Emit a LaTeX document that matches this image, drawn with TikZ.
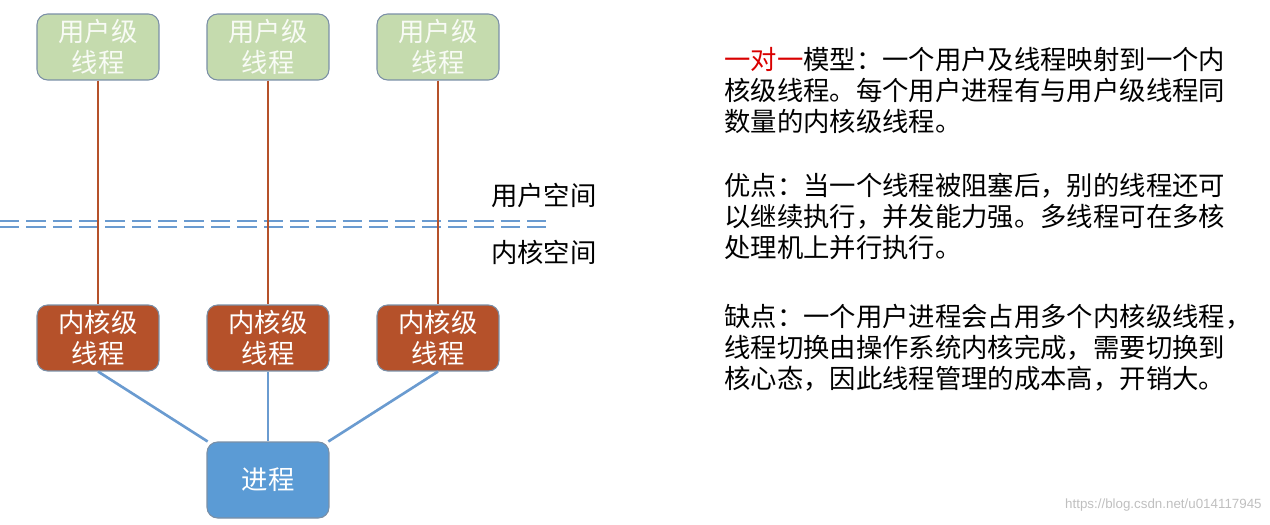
\documentclass[tikz,border=0pt]{standalone}
\usepackage{fontspec}
\setmainfont{Noto Sans CJK SC}
\newfontfamily\wmfont{Liberation Sans}
\usetikzlibrary{positioning}
\definecolor{verdeusu}{HTML}{C5DBAE}
\definecolor{rojonuc}{HTML}{B5512A}
\definecolor{azulpro}{HTML}{5B9BD5}
\definecolor{azullin}{HTML}{6A9BD0}
\definecolor{borde}{HTML}{7A8FA6}
\begin{document}
\begin{tikzpicture}[x=0.02cm,y=-0.02cm]
% estilos de cajas y lineas
\tikzstyle{caja}=[rounded corners=6pt,draw=borde,line width=0.6pt,
  minimum width=2.44cm,minimum height=1.32cm,align=center,
  font=\fontsize{15}{17.5}\selectfont,inner sep=0pt]
\tikzstyle{usuario}=[caja,fill=verdeusu,text=white!88!verdeusu]
\tikzstyle{nucleo}=[caja,fill=rojonuc,text=white]
\tikzstyle{proceso}=[caja,fill=azulpro,text=white,minimum height=1.52cm]
\tikzstyle{enlace}=[rojonuc,line width=1.5pt]
\tikzstyle{rama}=[azullin,line width=1.5pt]
\tikzstyle{parrafo}=[anchor=north west,inner sep=0pt,align=left,
  font=\fontsize{15}{17.6}\selectfont]
\useasboundingbox (0,0) rectangle (1270,524);
% hilos de usuario
\node[usuario] (u1) at (98,47) {用户级\\线程};
\node[usuario] (u2) at (268,47) {用户级\\线程};
\node[usuario] (u3) at (438,47) {用户级\\线程};
% hilos de nucleo
\node[nucleo] (k1) at (98,338) {内核级\\线程};
\node[nucleo] (k2) at (268,338) {内核级\\线程};
\node[nucleo] (k3) at (438,338) {内核级\\线程};
% proceso
\node[proceso] (p) at (268,480) {进程};
% division de espacios
\coordinate (d1) at (0,224);
\coordinate (d2) at (546,224);
\draw[azullin,line width=1.1pt,double distance=2.2pt,dash pattern=on 11pt off 4pt] (d1) -- (d2);
\node[font=\fontsize{15}{17}\selectfont,anchor=west] (eu) at (485,195) {用户空间};
\node[font=\fontsize{15}{17}\selectfont,anchor=west] (ek) at (485,252) {内核空间};
% conexiones
\foreach \i in {1,2,3}{
\draw[enlace] (u\i.south) -- (k\i.north);
\draw[rama] (k\i.south) -- (p);
}
% texto explicativo
\node[parrafo] (t1) at (724,47) {\textcolor{red!85!black}{一对一}模型：一个用户及线程映射到一个内\\核级线程。每个用户进程有与用户级线程同\\数量的内核级线程。};
\node[parrafo] (t2) at (724,173) {优点：当一个线程被阻塞后，别的线程还可\\以继续执行，并发能力强。多线程可在多核\\处理机上并行执行。};
\node[parrafo] (t3) at (724,304) {缺点：一个用户进程会占用多个内核级线程，\\线程切换由操作系统内核完成，需要切换到\\核心态，因此线程管理的成本高，开销大。};
\node[anchor=east,text=black!25,font=\wmfont\fontsize{7.6}{9}\selectfont,inner sep=0pt] (wm) at (1262,505) {https://blog.csdn.net/u014117945};
\end{tikzpicture}
\end{document}
